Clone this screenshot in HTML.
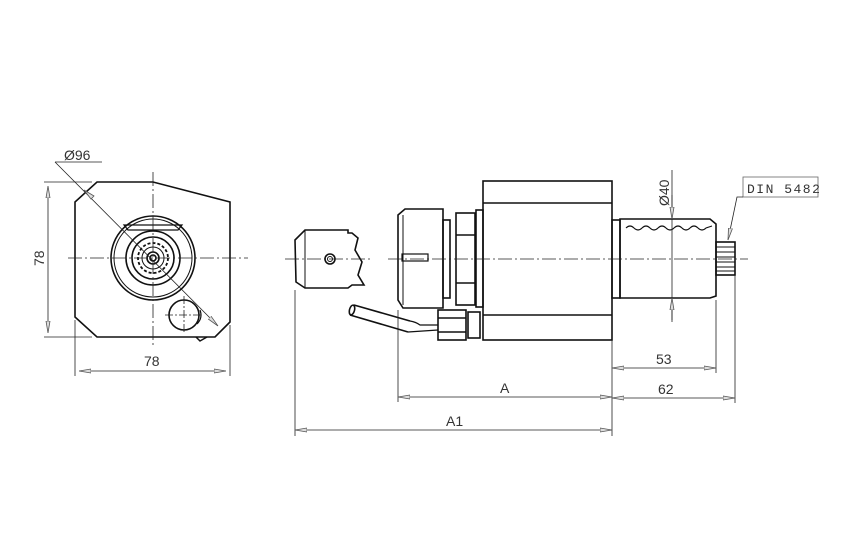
<!DOCTYPE html>
<html><head><style>
html,body{margin:0;padding:0;background:#fff;}
svg{display:block;}
text{font-family:"Liberation Sans",sans-serif;fill:#333;}
</style></head><body>
<svg width="868" height="550" viewBox="0 0 868 550" xmlns="http://www.w3.org/2000/svg">
<defs>
<marker id="ar" viewBox="0 0 12 6" refX="12" refY="3" markerWidth="12" markerHeight="6" orient="auto-start-reverse" markerUnits="userSpaceOnUse">
<path d="M0,1 L12,3 L0,5 Z" fill="#ddd" stroke="#555" stroke-width="0.8"/>
</marker>
</defs>
<g fill="none" stroke="#111" stroke-width="1.6">
<path d="M97,182 L153,182 L230,202 L230,322 L215,337 L97,337 L75,317 L75,202 Z"/>
<circle cx="153" cy="258" r="42"/>
<circle cx="153" cy="258" r="39" stroke-width="1"/>
<circle cx="153" cy="258" r="27"/>
<circle cx="153" cy="258" r="21"/>
<circle cx="153" cy="258" r="15" stroke-width="1.8" stroke-dasharray="3 2"/>
<circle cx="153" cy="258" r="11" stroke-width="1"/>
<circle cx="153" cy="258" r="6"/>
<circle cx="153" cy="258" r="3"/>
<path d="M128,230 L178,230 L182,225 L124,225 Z" stroke-width="1.2"/>
<circle cx="184" cy="315" r="15"/>
<path d="M197,324 Q203,318 200,310" stroke-width="1.2"/>
<path d="M196,337 L200,341 L207,337" stroke-width="1.5"/>
</g>
<g stroke="#222" stroke-width="0.8" fill="none">
<path d="M68,258 H248" stroke-dasharray="14 3 2 3"/>
<path d="M153,172 V348" stroke-dasharray="14 3 2 3"/>
<path d="M165,315 H202 M184,296 V334" stroke-dasharray="8 2 2 2"/>
<path d="M44,182 H92 M44,337 H92"/>
<path d="M48,186 V333" marker-start="url(#ar)" marker-end="url(#ar)"/>
<path d="M75,320 V376 M230,325 V376"/>
<path d="M79,371 H226" marker-start="url(#ar)" marker-end="url(#ar)"/>
<path d="M55,162 H102"/>
<path d="M55,162 L218,326" marker-end="url(#ar)"/>
</g>
<path d="M84,190 L91,199 L94,196 Z" fill="#ddd" stroke="#555" stroke-width="0.8"/>
<text x="64" y="160" font-size="14">Ø96</text>
<text x="0" y="0" font-size="14" transform="translate(44,266) rotate(-90)">78</text>
<text x="144" y="366" font-size="14">78</text>

<g fill="none" stroke="#111" stroke-width="1.6">
<path d="M305,230 L348,230 L348,233 L352,233 L358,238 L355,250 L362,262 L358,275 L364,285 L352,285 L348,288 L305,288 L296,282 L295,240 Z"/>
<path d="M305,230 V288" stroke-width="1"/>
<circle cx="330" cy="259" r="5"/>
<circle cx="330" cy="259" r="2.5" stroke-width="1"/>
<path d="M405,209 L443,209 L443,308 L403,308 L398,300 L398,215 Z"/>
<path d="M403,215 V305" stroke-width="1"/>
<rect x="402" y="254" width="26" height="7" stroke-width="1.2"/>
<rect x="443" y="220" width="7" height="78"/>
<rect x="456" y="213" width="19" height="92"/>
<path d="M456,235 H475 M456,283 H475"/>
<rect x="476" y="210" width="7" height="97"/>
<rect x="483" y="181" width="129" height="159"/>
<path d="M483,203 H612 M483,315 H612"/>
<path d="M354,305 L410,321 M350,315 L408,332" />
<ellipse cx="352" cy="310" rx="2.5" ry="5" transform="rotate(15 352 310)"/>
<path d="M410,321 Q416,322 420,325 L438,325 M408,332 L438,330" stroke-width="1.2"/>
<rect x="438" y="310" width="28" height="30"/>
<path d="M438,318 H466 M438,332 H466"/>
<rect x="468" y="312" width="12" height="26"/>
<rect x="612" y="220" width="8" height="78"/>
<path d="M620,219 L710,219 L716,224 L716,296 L710,298 L620,298 Z"/>
<path d="M626,228 Q630,224 634,228 T642,228 T650,228 T658,228 T666,228 T674,228 T682,228 T690,228 T698,228 T706,228 L712,226" stroke-width="1.1"/>
<rect x="716" y="242" width="19" height="33"/>
<path d="M716,247 H735 M716,252 H735 M716,257 H735 M716,262 H735 M716,267 H735 M716,271 H735" stroke-width="1"/>
</g>
<g stroke="#222" stroke-width="0.8" fill="none">
<path d="M285,259 H372" stroke-dasharray="14 3 2 3"/>
<path d="M388,259 H748" stroke-dasharray="14 3 2 3"/>
<path d="M672,170 V322"/>
<path d="M672,195 V219" marker-end="url(#ar)"/>
<path d="M672,320 V298" marker-end="url(#ar)"/>
<rect x="743" y="177" width="75" height="20" stroke="#666"/>
<path d="M743,197 H737 L728,240" marker-end="url(#ar)"/>
<path d="M295,290 V436 M398,310 V402 M612,340 V436 M716,300 V373 M735,275 V403"/>
<path d="M612,368 H716" marker-start="url(#ar)" marker-end="url(#ar)"/>
<path d="M612,398 H735" marker-start="url(#ar)" marker-end="url(#ar)"/>
<path d="M398,397 H612" marker-start="url(#ar)" marker-end="url(#ar)"/>
<path d="M295,430 H612" marker-start="url(#ar)" marker-end="url(#ar)"/>
</g>
<text x="0" y="0" font-size="14" transform="translate(669,206) rotate(-90)">Ø40</text>
<text x="747" y="193" font-size="13" letter-spacing="1.5" style="font-family:'Liberation Mono',monospace">DIN 5482</text>
<text x="656" y="364" font-size="14">53</text>
<text x="658" y="394" font-size="14">62</text>
<text x="500" y="393" font-size="14">A</text>
<text x="446" y="426" font-size="14">A1</text>
</svg>
</body></html>
